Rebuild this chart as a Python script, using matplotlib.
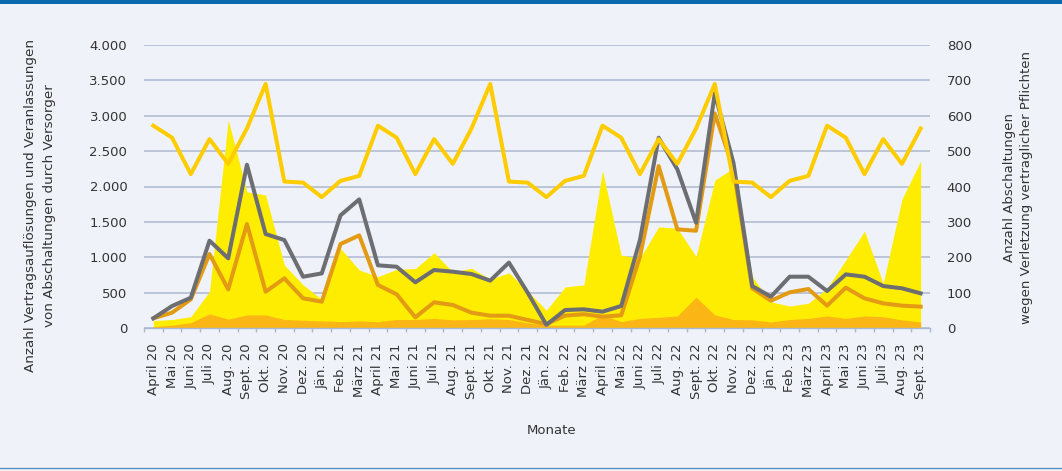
import numpy as np
import matplotlib
matplotlib.use("Agg")
from matplotlib import pyplot as plt
from matplotlib.ticker import FuncFormatter
from matplotlib.patches import Rectangle
from matplotlib.lines import Line2D

# Monate April 2020 bis September 2023
monate = ["April 20", "Mai 20", "Juni 20", "Juli 20", "Aug. 20", "Sept. 20",
          "Okt. 20", "Nov. 20", "Dez. 20", "Jän. 21", "Feb. 21", "März 21",
          "April 21", "Mai 21", "Juni 21", "Juli 21", "Aug. 21", "Sept. 21",
          "Okt. 21", "Nov. 21", "Dez. 21", "Jän. 22", "Feb. 22", "März 22",
          "April 22", "Mai 22", "Juni 22", "Juli 22", "Aug. 22", "Sept. 22",
          "Okt. 22", "Nov. 22", "Dez. 22", "Jän. 23", "Feb. 23", "März 23",
          "April 23", "Mai 23", "Juni 23", "Juli 23", "Aug. 23", "Sept. 23"]

# linke Achse (Linien)
linie_hellgelb = [2860, 2690, 2175, 2670, 2320, 2820, 3450, 2070, 2055, 1850, 2080, 2150,
                  2860, 2690, 2175, 2670, 2320, 2820, 3450, 2070, 2055, 1850, 2080, 2150,
                  2860, 2690, 2175, 2670, 2320, 2820, 3450, 2070, 2055, 1850, 2080, 2150,
                  2860, 2690, 2175, 2670, 2320, 2820]
linie_grau = [137, 311, 428, 1234, 985, 2308, 1328, 1243, 725, 772, 1592, 1818,
              886, 866, 646, 820, 796, 763, 669, 925, 500, 45, 254, 264,
              231, 311, 1243, 2689, 2242, 1488, 3316, 2330, 593, 443, 725, 725,
              523, 758, 725, 593, 561, 490]
linie_orange = [137, 217, 405, 1046, 546, 1470, 513, 702, 419, 372, 1187, 1309,
                608, 476, 151, 363, 325, 217, 174, 174, 113, 55, 175, 195,
                160, 180, 1008, 2289, 1394, 1375, 3033, 2250, 561, 386, 504, 551,
                316, 570, 419, 348, 316, 302]

# rechte Achse (Flaechen)
flaeche_gelb = [21, 24, 32, 103, 588, 385, 376, 178, 122, 81, 225, 164,
                145, 166, 168, 213, 158, 169, 138, 156, 105, 50, 116, 122,
                445, 206, 197, 286, 282, 202, 418, 452, 145, 74, 62, 70,
                112, 192, 274, 126, 364, 472]
flaeche_orange = [4, 8, 15, 40, 25, 37, 37, 24, 22, 20, 18, 20,
                  18, 24, 24, 27, 23, 24, 26, 24, 15, 8, 8, 8,
                  37, 18, 27, 30, 34, 87, 37, 24, 23, 17, 24, 27,
                  34, 27, 34, 32, 23, 17]

bg = '#EFF3F9'
gridfarbe = '#AEB9CF'
textfarbe = '#333333'
plt.rcParams['font.family'] = ['DejaVu Sans']

fig = plt.figure(figsize=(10.62, 4.71), dpi=100)
fig.patch.set_facecolor(bg)

ax = fig.add_axes([144 / 1062, 1 - 328 / 471, 786 / 1062, 283 / 471])
ax2 = ax.twinx()
ax.set_zorder(ax2.get_zorder() + 1)
ax.patch.set_visible(False)

x = np.arange(len(monate))

# Flaechen
ax2.fill_between(x, flaeche_gelb, color='#FFED00', lw=0)
ax2.fill_between(x, flaeche_orange, color='#FBB616', lw=0)
ax2.set_ylim(0, 800)
ax2.set_yticks(range(0, 801, 100))
ax2.yaxis.grid(True, color=gridfarbe, lw=1.1)
ax2.set_axisbelow(True)
ax2.tick_params(axis='y', length=0, pad=12, labelsize=9.5, labelcolor=textfarbe)

# Linien
ax.plot(x, linie_orange, color='#E39B14', lw=2.9)
ax.plot(x, linie_grau, color='#6D6E71', lw=2.9)
ax.plot(x, linie_hellgelb, color='#FFCC00', lw=2.9)

ax.set_xlim(-0.5, len(monate) - 0.5)
ax.set_ylim(0, 4000)
ax.set_yticks(range(0, 4001, 500))
ax.yaxis.set_major_formatter(FuncFormatter(lambda v, p: f"{int(v):,}".replace(",", ".")))
ax.tick_params(axis='y', length=0, pad=12, labelsize=9.5, labelcolor=textfarbe)

ax.set_xticks(x)
ax.set_xticklabels(monate, rotation=90)
ax.set_xticks(np.arange(-0.5, len(monate)), minor=True)
ax.tick_params(axis='x', which='major', length=0, pad=11, labelsize=9.5, labelcolor=textfarbe)
ax.tick_params(axis='x', which='minor', length=3, width=1, color='#A9B8D0')

for s in ax.spines.values():
    s.set_visible(False)
for s in ax2.spines.values():
    s.set_visible(False)
ax.spines['bottom'].set_visible(True)
ax.spines['bottom'].set_color('#A9B8D0')
ax.spines['bottom'].set_linewidth(1)

fig.text(40 / 1062, 1 - 206 / 471,
         "Anzahl Vertragsauflösungen und Veranlassungen\nvon Abschaltungen durch Versorger",
         rotation=90, ha='center', va='center', multialignment='center',
         fontsize=9.7, color=textfarbe, linespacing=1.65)
fig.text(1018 / 1062, 1 - 187 / 471,
         "Anzahl Abschaltungen\nwegen Verletzung vertraglicher Pflichten",
         rotation=90, ha='center', va='center', multialignment='center',
         fontsize=9.5, color=textfarbe, linespacing=1.35)
fig.text(552 / 1062, 1 - 430 / 471, "Monate", ha='center', va='center',
         fontsize=9.5, color=textfarbe)

# Rahmen oben / unten
fig.patches.append(Rectangle((0, 1 - 4 / 471), 1, 4 / 471, transform=fig.transFigure,
                             facecolor='#0A6AAE', edgecolor='none'))
fig.lines.append(Line2D([0, 1], [1 - 468 / 471, 1 - 468 / 471], transform=fig.transFigure,
                        color='#5C8FBF', lw=1))

fig.savefig("out.png", dpi=100, facecolor=bg)
